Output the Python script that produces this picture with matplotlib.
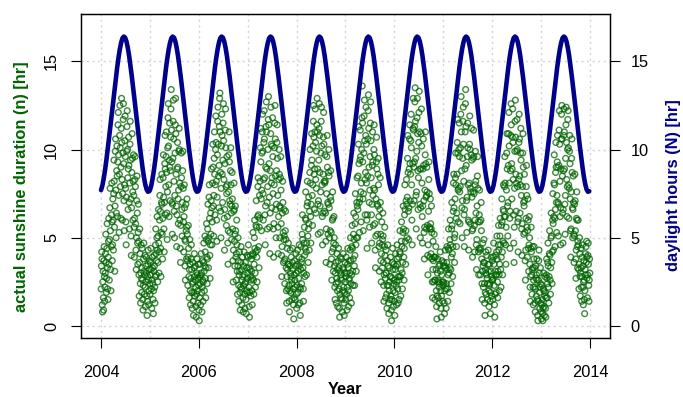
import numpy as np
import matplotlib
matplotlib.use("Agg")
import matplotlib.pyplot as plt
from matplotlib.ticker import FixedLocator

plt.rcParams['font.family'] = ['Liberation Sans', 'DejaVu Sans']

years = list(range(2004, 2014))
x_ticks = [2004, 2006, 2008, 2010, 2012, 2014]
y_ticks = [0, 5, 10, 15]

# daylight hours (N), every 10 days of the year
daylight_doy = [1, 11, 21, 31, 41, 51, 61, 71, 81, 91, 101, 111, 121, 131, 141, 151, 161, 171, 181,
                191, 201, 211, 221, 231, 241, 251, 261, 271, 281, 291, 301, 311, 321, 331, 341, 351, 361]
daylight_hours = [7.70, 7.96, 8.36, 8.84, 9.41, 10.03, 10.68, 11.34, 12.02, 12.69, 13.36, 14.01, 14.62,
                  15.18, 15.67, 16.05, 16.31, 16.40, 16.34, 16.12, 15.76, 15.29, 14.73, 14.13, 13.49,
                  12.82, 12.15, 11.47, 10.81, 10.16, 9.54, 8.96, 8.45, 8.03, 7.74, 7.61, 7.64]

# actual sunshine duration (n), read roughly every second day (one row per month)
sun_2004 = [2.1, 3.4, 4.2, 3.8, 1.2, 0.8, 2.5, 3.1, 1.6, 0.9, 3.7, 4.5, 2.8, 1.4, 2.2,
            3.0, 4.1, 5.2, 3.6, 1.9, 2.7, 4.4, 5.8, 3.3, 2.1, 1.5, 3.9, 4.8, 6.1, 3.5,
            2.6, 4.9, 6.7, 7.8, 5.4, 3.2, 2.0, 4.5, 6.3, 8.1, 5.9, 3.7, 4.6, 7.2, 6.0,
            4.3, 7.5, 9.4, 8.2, 5.6, 3.1, 6.8, 9.9, 10.6, 7.7, 5.0, 6.4, 8.8, 10.2, 8.5,
            6.2, 9.3, 11.4, 12.1, 9.7, 7.4, 5.3, 8.6, 10.8, 12.5, 10.1, 7.9, 6.1, 9.0, 11.2,
            12.9, 10.4, 8.3, 6.0, 7.5, 9.8, 11.7, 12.6, 9.2, 7.1, 5.4, 8.0, 10.5, 11.9, 9.6,
            7.8, 5.9, 4.6, 7.3, 9.9, 11.3, 12.2, 10.0, 8.4, 6.6, 8.9, 10.7, 9.1, 7.0, 5.5,
            8.1, 10.3, 11.6, 9.4, 7.2, 5.1, 4.0, 6.7, 8.7, 10.9, 9.5, 7.6, 6.0, 8.2, 9.7,
            7.4, 5.6, 3.9, 6.1, 8.3, 9.6, 7.9, 5.8, 4.3, 3.2, 5.0, 7.1, 8.5, 6.4, 4.7,
            3.5, 5.3, 6.9, 4.8, 2.9, 1.7, 3.6, 5.5, 4.1, 2.4, 1.3, 3.0, 4.6, 2.7, 1.9,
            3.3, 4.4, 2.6, 1.5, 0.9, 2.3, 3.8, 4.7, 3.1, 1.8, 2.9, 4.0, 2.2, 1.1, 3.4,
            2.5, 3.9, 3.0, 1.7, 0.6, 1.4, 2.8, 3.5, 4.3, 2.6, 1.2, 2.0, 3.2, 3.7, 2.4]
sun_2005 = [1.8, 2.9, 3.6, 4.4, 3.2, 2.1, 1.0, 2.6, 3.9, 3.3, 2.4, 1.5, 0.7, 2.0, 3.1,
            4.0, 3.4, 2.2, 1.3, 2.8, 4.6, 5.5, 4.1, 2.9, 3.7, 5.0, 6.2, 4.3, 2.5, 3.6,
            5.1, 6.6, 4.7, 3.0, 4.2, 6.0, 7.4, 8.3, 6.5, 4.4, 2.8, 5.3, 7.0, 8.6, 6.9,
            5.2, 3.8, 6.1, 8.4, 9.7, 7.3, 5.5, 4.2, 7.0, 9.2, 10.8, 8.9, 6.3, 7.9, 9.6,
            11.0, 8.7, 6.4, 4.9, 7.6, 10.1, 11.8, 12.6, 10.2, 8.0, 6.2, 9.4, 11.5, 9.0, 7.1,
            8.8, 10.7, 12.3, 13.4, 11.1, 9.3, 7.0, 5.2, 6.9, 9.5, 11.6, 12.8, 10.6, 8.2, 6.5,
            5.0, 7.4, 9.8, 11.4, 12.9, 10.9, 8.6, 6.8, 4.5, 6.3, 8.9, 10.4, 9.0, 7.2, 5.8,
            7.7, 9.9, 11.2, 10.0, 8.1, 6.0, 4.4, 3.6, 5.7, 7.9, 9.8, 8.4, 6.6, 5.1, 7.0,
            8.8, 9.9, 7.8, 5.9, 4.2, 6.2, 8.0, 6.7, 4.9, 3.4, 2.6, 4.8, 6.9, 5.4, 3.8,
            5.6, 7.2, 5.2, 3.7, 2.3, 3.9, 5.7, 4.4, 2.8, 1.6, 3.2, 4.9, 3.5, 2.0, 1.2,
            2.7, 3.8, 4.6, 3.2, 1.9, 1.0, 2.4, 3.6, 2.5, 1.4, 0.6, 1.9, 3.3, 4.1, 2.8,
            1.7, 2.6, 3.4, 2.2, 1.1, 0.5, 1.8, 3.0, 3.8, 2.9, 2.0, 1.3, 2.7, 3.5, 2.3]
sun_2006 = [0.9, 0.3, 1.6, 2.8, 3.5, 2.4, 1.2, 2.9, 4.1, 3.0, 1.9, 0.8, 2.2, 3.7, 2.6,
            1.4, 2.5, 3.6, 4.7, 3.1, 2.0, 3.4, 5.1, 4.2, 2.7, 1.6, 3.3, 4.9, 5.8, 3.9,
            2.4, 3.8, 5.5, 6.9, 4.8, 3.3, 5.0, 7.3, 8.0, 6.1, 4.0, 2.7, 4.6, 6.4, 5.2,
            7.1, 8.9, 6.7, 4.6, 5.9, 8.1, 10.3, 9.0, 6.8, 5.1, 7.4, 9.5, 11.0, 8.6, 6.3,
            8.0, 10.0, 11.9, 10.4, 8.2, 6.0, 4.8, 7.3, 9.7, 11.6, 12.4, 10.3, 8.5, 6.7, 9.1,
            11.3, 12.9, 13.2, 11.0, 8.7, 6.5, 5.0, 7.8, 10.2, 12.0, 10.8, 8.6, 7.0, 9.4, 11.5,
            12.6, 10.5, 8.3, 6.1, 4.3, 6.6, 9.2, 11.1, 12.3, 10.1, 7.9, 5.7, 7.5, 9.6, 8.0,
            6.2, 4.7, 3.5, 5.4, 7.6, 9.7, 11.0, 9.3, 7.1, 5.3, 6.9, 8.8, 10.1, 8.0, 6.4,
            4.9, 6.8, 8.7, 7.2, 5.5, 3.7, 2.5, 4.3, 6.5, 8.1, 6.6, 4.8, 3.4, 5.2, 6.8,
            5.4, 3.9, 2.6, 4.1, 6.0, 4.6, 3.1, 1.8, 3.4, 5.0, 3.7, 2.3, 1.4, 2.9, 4.2,
            3.1, 1.9, 0.9, 2.2, 3.6, 4.5, 3.2, 2.1, 1.2, 2.6, 3.9, 2.8, 1.6, 0.8, 2.3,
            3.4, 4.2, 2.9, 1.8, 1.0, 2.4, 3.6, 2.5, 1.5, 0.7, 2.0, 3.3, 4.0, 2.7, 1.9]
sun_2007 = [3.0, 3.9, 4.6, 3.3, 2.2, 1.1, 0.5, 1.9, 3.2, 4.0, 2.8, 1.7, 2.6, 3.8, 3.1,
            2.0, 1.2, 2.7, 4.1, 5.3, 4.0, 2.6, 1.8, 3.5, 5.0, 6.0, 4.4, 3.0, 2.2, 4.2,
            5.7, 7.1, 5.6, 3.9, 2.5, 4.3, 6.2, 7.9, 8.4, 6.3, 4.5, 3.3, 5.6, 7.4, 6.1,
            8.2, 10.1, 11.2, 9.3, 7.2, 5.4, 7.7, 9.8, 11.0, 12.0, 9.9, 7.5, 6.0, 8.3, 10.4,
            12.2, 10.6, 8.4, 6.3, 4.6, 6.8, 9.0, 11.3, 12.7, 11.0, 8.9, 7.0, 5.5, 7.9, 10.0,
            11.7, 13.0, 11.4, 9.2, 7.3, 5.6, 4.1, 6.4, 8.8, 10.9, 12.4, 10.3, 8.1, 6.7, 8.4,
            10.2, 11.8, 9.6, 7.5, 5.5, 3.9, 5.8, 8.0, 10.1, 11.5, 12.5, 10.6, 8.5, 6.6, 5.0,
            6.9, 8.8, 10.4, 11.4, 9.5, 7.4, 5.6, 4.1, 6.2, 8.3, 10.0, 8.6, 6.8, 5.0, 6.7,
            8.4, 9.6, 7.7, 5.8, 4.0, 2.8, 4.5, 6.4, 8.2, 7.0, 5.3, 3.6, 4.9, 6.6, 5.1,
            3.7, 2.4, 3.8, 5.4, 6.5, 4.9, 3.3, 2.0, 1.3, 2.8, 4.4, 3.2, 2.1, 3.5, 4.7,
            3.5, 2.3, 1.4, 0.8, 2.0, 3.4, 4.3, 3.0, 1.9, 2.8, 3.9, 2.6, 1.5, 2.4, 3.6,
            4.4, 3.2, 2.1, 1.2, 0.4, 1.6, 2.9, 3.7, 2.6, 1.5, 2.2, 3.4, 4.1, 3.0, 1.8]
sun_2008 = [1.0, 2.3, 3.5, 4.3, 3.1, 1.9, 1.2, 2.7, 3.9, 4.6, 3.4, 2.2, 1.3, 0.6, 2.1,
            3.2, 4.5, 3.6, 2.4, 3.8, 5.2, 6.3, 4.9, 3.3, 2.1, 1.4, 3.0, 4.7, 5.6, 4.0,
            2.8, 4.4, 6.1, 7.6, 6.0, 4.2, 2.9, 4.7, 6.8, 8.2, 7.0, 5.1, 3.6, 5.5, 7.3,
            5.8, 4.3, 6.5, 8.7, 10.0, 8.1, 6.2, 4.7, 6.9, 9.1, 10.9, 9.4, 7.4, 5.7, 8.0,
            10.2, 11.6, 12.5, 10.7, 8.6, 6.6, 8.9, 11.0, 12.3, 10.4, 8.3, 6.4, 7.8, 9.9, 11.4,
            12.9, 11.0, 8.9, 6.9, 5.2, 7.1, 9.4, 11.2, 12.6, 10.8, 8.7, 6.8, 5.3, 7.6, 9.8,
            11.6, 12.4, 10.2, 8.0, 6.2, 4.6, 6.4, 8.6, 10.7, 12.1, 10.3, 8.2, 6.5, 8.1, 9.7,
            8.2, 6.4, 4.8, 3.6, 5.5, 7.5, 9.6, 10.8, 9.0, 7.0, 5.2, 6.9, 8.7, 10.0, 8.5,
            6.7, 5.0, 3.5, 5.4, 7.3, 8.8, 7.1, 5.3, 3.8, 2.6, 4.2, 6.0, 7.6, 6.1, 4.4,
            3.1, 4.7, 6.2, 5.0, 3.4, 2.2, 1.5, 3.0, 4.6, 3.6, 2.4, 1.3, 2.7, 4.1, 3.2,
            2.0, 1.1, 2.5, 3.7, 4.4, 3.3, 2.1, 1.0, 0.5, 1.8, 3.1, 3.9, 2.7, 1.6, 2.9,
            3.8, 2.6, 1.5, 0.8, 2.0, 3.3, 4.1, 3.2, 2.2, 1.3, 0.6, 1.9, 3.0, 3.6, 2.5]
sun_2009 = [1.5, 2.8, 3.9, 3.0, 1.8, 0.9, 2.2, 3.5, 4.4, 3.3, 2.0, 1.1, 2.6, 3.7, 2.7,
            1.6, 3.0, 4.3, 5.0, 3.7, 2.4, 1.3, 2.9, 4.5, 5.7, 4.4, 3.1, 2.3, 3.8, 5.2,
            6.4, 4.9, 3.4, 2.3, 4.0, 5.8, 7.5, 6.2, 4.6, 3.1, 5.0, 7.0, 8.4, 6.8, 5.0,
            6.6, 8.5, 10.3, 11.3, 9.2, 7.0, 5.3, 7.2, 9.4, 11.1, 9.6, 7.6, 5.9, 8.1, 10.0,
            11.8, 13.6, 11.5, 9.3, 7.2, 5.4, 7.5, 9.8, 11.9, 12.8, 10.5, 8.3, 6.3, 8.7, 10.8,
            12.4, 10.3, 8.1, 6.0, 4.4, 6.3, 8.5, 10.6, 12.2, 13.1, 11.2, 9.0, 7.0, 5.6, 7.7,
            9.6, 11.5, 12.7, 10.5, 8.4, 6.3, 4.7, 6.9, 9.1, 11.0, 9.3, 7.4, 5.7, 7.8, 10.0,
            11.4, 9.7, 7.7, 5.8, 4.3, 3.3, 5.1, 7.2, 9.3, 10.7, 8.9, 6.9, 5.2, 6.8, 8.6,
            9.5, 8.0, 6.2, 4.5, 3.1, 4.7, 6.6, 8.4, 7.0, 5.2, 3.7, 2.5, 4.1, 5.9, 4.6,
            3.3, 4.9, 6.4, 5.1, 3.6, 2.3, 1.4, 2.9, 4.5, 5.6, 4.0, 2.7, 1.6, 3.0, 4.3,
            3.0, 1.8, 1.0, 2.3, 3.7, 4.6, 3.4, 2.3, 1.3, 0.7, 2.0, 3.3, 2.5, 1.5, 2.8,
            3.9, 2.8, 1.7, 0.9, 0.3, 1.5, 2.7, 3.6, 4.4, 3.2, 2.0, 1.1, 2.4, 3.5, 2.6]
sun_2010 = [1.4, 0.6, 1.9, 3.2, 4.1, 3.4, 2.3, 1.2, 2.5, 3.8, 4.6, 3.5, 2.1, 1.3, 2.8,
            3.9, 2.6, 1.5, 2.8, 4.2, 5.4, 4.1, 2.8, 1.7, 3.2, 4.8, 5.9, 4.5, 3.0, 2.1,
            3.6, 5.3, 6.8, 5.5, 3.9, 2.6, 4.4, 6.3, 8.0, 6.6, 4.8, 3.5, 5.4, 7.1, 8.3,
            6.9, 5.0, 7.3, 9.5, 10.8, 8.7, 6.5, 4.9, 6.7, 8.9, 10.6, 11.4, 9.2, 7.1, 8.6,
            10.5, 12.0, 10.1, 8.0, 6.0, 4.6, 6.9, 9.2, 11.2, 12.9, 11.1, 9.0, 7.1, 9.3, 11.3,
            12.7, 13.5, 11.6, 9.5, 7.4, 5.5, 7.6, 9.9, 11.8, 12.9, 10.9, 8.8, 6.6, 8.4, 10.4,
            12.1, 13.3, 11.0, 8.9, 6.9, 5.0, 6.7, 8.9, 10.9, 12.3, 10.2, 8.1, 6.2, 4.7, 6.8,
            8.9, 10.6, 9.1, 7.1, 5.3, 3.8, 5.6, 7.7, 9.7, 11.0, 9.2, 7.3, 5.5, 7.4, 9.0,
            7.6, 5.7, 4.0, 2.9, 4.6, 6.5, 8.3, 9.3, 7.5, 5.6, 3.9, 5.5, 7.2, 5.8, 4.1,
            5.5, 6.8, 5.3, 3.8, 2.5, 1.6, 3.2, 4.8, 3.7, 2.5, 3.9, 5.2, 3.9, 2.6, 1.5,
            2.6, 3.9, 4.5, 3.2, 2.0, 1.1, 0.4, 1.7, 3.0, 3.8, 2.6, 1.6, 2.5, 3.4, 2.2,
            1.3, 2.4, 3.5, 4.2, 3.1, 2.0, 1.0, 0.5, 1.7, 2.9, 3.7, 2.5, 1.4, 2.3, 3.4]
sun_2011 = [2.5, 3.6, 2.4, 1.3, 0.7, 2.0, 3.4, 4.3, 3.3, 2.1, 1.0, 2.4, 3.6, 4.5, 3.2,
            2.1, 1.4, 2.9, 4.4, 5.5, 4.3, 3.0, 1.9, 3.3, 4.9, 6.0, 4.6, 3.2, 2.4, 3.9,
            5.5, 7.0, 5.7, 4.1, 2.8, 4.5, 6.5, 8.1, 8.6, 6.7, 5.0, 3.6, 5.2, 7.2, 8.4,
            9.8, 8.0, 6.1, 4.5, 6.4, 8.6, 10.4, 11.7, 9.8, 7.7, 5.9, 7.8, 10.0, 11.5, 9.6,
            7.6, 5.8, 7.9, 10.1, 12.0, 13.0, 11.0, 8.8, 6.7, 5.0, 7.1, 9.5, 11.6, 12.4, 10.3,
            8.2, 6.3, 4.5, 6.6, 8.9, 11.0, 12.6, 13.4, 11.3, 9.1, 7.1, 5.3, 7.3, 9.6, 11.5,
            10.1, 8.0, 6.0, 4.3, 5.9, 8.1, 10.3, 11.9, 10.0, 7.8, 5.8, 7.6, 9.7, 11.2, 9.4,
            7.3, 5.4, 3.9, 5.5, 7.6, 9.5, 11.1, 9.6, 7.5, 5.7, 4.2, 6.0, 8.0, 9.9, 8.2,
            6.4, 4.6, 3.2, 4.9, 6.8, 8.5, 9.6, 7.8, 5.9, 4.2, 2.9, 4.4, 6.3, 7.7, 5.9,
            4.3, 2.9, 4.4, 6.0, 7.0, 5.4, 3.8, 2.4, 1.5, 3.1, 4.7, 3.4, 2.2, 3.6, 4.9,
            3.6, 2.4, 1.3, 0.6, 1.9, 3.2, 4.2, 3.0, 1.8, 2.9, 4.0, 2.7, 1.5, 2.4, 3.5,
            4.3, 3.1, 2.0, 1.1, 2.3, 3.5, 2.4, 1.4, 0.7, 1.9, 3.1, 3.9, 2.8, 1.7, 2.6]
sun_2012 = [3.7, 2.6, 1.5, 2.7, 3.9, 4.7, 3.5, 2.3, 1.2, 0.5, 1.8, 3.1, 4.0, 2.9, 1.9,
            2.9, 4.2, 5.1, 3.8, 2.5, 1.6, 3.1, 4.6, 5.7, 4.3, 2.9, 2.0, 3.5, 5.1, 6.1,
            4.6, 3.2, 2.2, 3.9, 5.7, 7.2, 5.9, 4.2, 2.9, 4.8, 6.6, 8.0, 6.5, 4.7, 6.2,
            7.9, 9.6, 8.1, 6.2, 4.6, 3.5, 5.6, 7.7, 9.8, 10.9, 8.9, 6.8, 5.1, 7.0, 9.1,
            10.9, 12.1, 10.2, 8.1, 6.1, 4.4, 6.5, 8.8, 10.8, 12.6, 11.4, 9.2, 7.2, 8.9, 10.7,
            12.3, 10.4, 8.3, 6.3, 4.7, 3.6, 5.6, 7.8, 9.9, 11.6, 12.8, 10.7, 8.6, 6.5, 8.1,
            9.9, 11.7, 10.0, 7.9, 5.9, 4.2, 6.1, 8.3, 10.4, 12.0, 10.6, 8.5, 6.4, 8.0, 9.8,
            11.2, 9.4, 7.4, 5.5, 4.0, 5.8, 7.9, 9.8, 10.9, 9.0, 7.0, 5.2, 6.8, 8.6, 7.1,
            5.3, 3.7, 2.6, 4.3, 6.1, 7.9, 9.1, 7.4, 5.6, 3.9, 5.4, 7.2, 6.0, 4.4, 3.1,
            4.6, 6.2, 5.0, 3.5, 2.2, 1.4, 2.8, 4.4, 5.6, 4.2, 2.9, 1.8, 3.2, 4.5, 3.3,
            2.2, 1.2, 2.6, 3.8, 4.5, 3.3, 2.2, 1.3, 0.8, 2.1, 3.4, 2.7, 1.7, 2.9, 3.8,
            2.6, 1.5, 0.6, 0.3, 1.4, 2.6, 3.7, 4.3, 3.0, 1.9, 1.0, 2.2, 3.3, 2.4, 1.3]
sun_2013 = [0.8, 0.4, 1.2, 2.3, 1.5, 0.7, 0.3, 1.0, 2.1, 3.0, 2.0, 1.1, 0.6, 1.7, 2.8,
            1.9, 1.0, 0.5, 1.6, 2.9, 3.8, 2.7, 1.6, 2.4, 3.6, 4.7, 3.4, 2.2, 1.3, 2.8,
            4.1, 5.4, 4.0, 2.6, 1.8, 3.3, 5.0, 6.4, 5.1, 3.6, 2.4, 4.2, 6.0, 7.5, 5.8,
            4.3, 6.2, 8.1, 9.7, 8.0, 6.1, 4.5, 6.6, 8.7, 10.4, 9.0, 7.0, 5.3, 7.4, 9.3,
            10.8, 9.0, 7.0, 5.1, 6.9, 9.1, 11.1, 12.2, 10.3, 8.2, 6.2, 4.6, 6.7, 8.9, 10.6,
            12.0, 12.5, 10.6, 8.5, 6.4, 4.7, 6.6, 8.8, 10.8, 12.3, 11.0, 8.9, 6.9, 5.2, 7.4,
            9.5, 11.4, 12.4, 10.4, 8.3, 6.2, 7.9, 10.0, 11.7, 12.2, 10.1, 8.0, 6.1, 7.8, 9.9,
            10.8, 9.2, 7.2, 5.4, 3.9, 5.5, 7.6, 9.5, 10.6, 8.7, 6.7, 5.0, 6.6, 8.5, 7.0,
            5.2, 3.6, 5.1, 6.9, 8.6, 7.1, 5.4, 3.8, 2.7, 4.3, 6.1, 7.6, 6.0, 4.5, 3.3,
            4.8, 6.0, 4.6, 3.2, 2.1, 3.5, 5.0, 4.1, 2.8, 1.7, 3.0, 4.4, 3.3, 2.2, 1.4,
            2.8, 3.9, 4.6, 3.4, 2.2, 1.2, 2.5, 3.7, 2.6, 1.5, 0.7, 2.0, 3.2, 4.1, 2.9,
            4.5, 3.6, 4.8, 3.9, 2.7, 1.6, 2.9, 4.0, 4.7, 3.5, 2.3, 1.4, 2.6, 3.8, 3.0]
sunshine = [sun_2004, sun_2005, sun_2006, sun_2007, sun_2008,
            sun_2009, sun_2010, sun_2011, sun_2012, sun_2013]

GREEN = '#006400'
BLUE = '#00008B'
GRID = '#D3D3D3'
FS = 11.8

fig = plt.figure(figsize=(6.83, 3.97), dpi=100)
ax = fig.add_axes([0.1193, 0.1486, 0.7731, 0.8161])

# green scatter of the measured sunshine
for yr, vals in zip(years, sunshine):
    vals = np.array(vals)
    xs = yr + (np.arange(len(vals)) + 0.5) / len(vals)
    ax.scatter(xs, vals, s=17, facecolors='none', edgecolors=GREEN,
               linewidths=1.0, alpha=0.75, zorder=3)

ax.set_xlim(2003.6, 2014.4)
ax.set_ylim(-0.68, 17.68)
ax.set_xticks(x_ticks)
ax.xaxis.set_minor_locator(FixedLocator([y + 1 for y in x_ticks[:-1]]))
ax.set_yticks(y_ticks)
ax.set_axisbelow(True)
ax.grid(which='both', axis='x', color=GRID, linestyle=(0, (1.5, 2.5)), linewidth=1)
ax.grid(which='major', axis='y', color=GRID, linestyle=(0, (1.5, 2.5)), linewidth=1)

ax.tick_params(axis='x', which='major', direction='out', length=7.2, width=0.8,
               pad=12, labelsize=FS)
ax.tick_params(axis='x', which='minor', length=0)
ax.tick_params(axis='y', direction='out', length=7.2, width=0.8, labelleft=False)
for sp_ in ax.spines.values():
    sp_.set_linewidth(0.9)

# left tick labels run along the axis (R's default las=0)
for v in y_ticks:
    ax.text(-0.0564, v, str(v), transform=ax.get_yaxis_transform(), rotation=90,
            ha='center', va='center', fontsize=FS, clip_on=False)

# blue daylight curve on the right axis
ax2 = ax.twinx()
day_x = np.concatenate([yr + (np.array(daylight_doy) - 1) / 365 for yr in years])
day_y = np.tile(daylight_hours, len(years))
ax2.plot(day_x, day_y, color=BLUE, lw=3.3, solid_capstyle='round', solid_joinstyle='round')
ax2.set_ylim(-0.68, 17.68)
ax2.set_yticks(y_ticks)
ax2.tick_params(axis='y', direction='out', length=7.2, width=0.8, pad=7.8, labelsize=FS)
for sp_ in ax2.spines.values():
    sp_.set_linewidth(0.9)

fig.text(22 / 683, 1 - 187 / 397, 'actual sunshine duration (n) [hr]', rotation=90,
         ha='center', va='center', color=GREEN, fontsize=FS, fontweight='bold')
fig.text(673.5 / 683, 1 - 185 / 397, 'daylight hours (N) [hr]', rotation=90,
         ha='center', va='center', color=BLUE, fontsize=FS, fontweight='bold')
fig.text(345.5 / 683, 1 - 394.3 / 397, 'Year', ha='center', va='baseline',
         fontsize=FS, fontweight='bold')

fig.savefig('out.png', dpi=100)
